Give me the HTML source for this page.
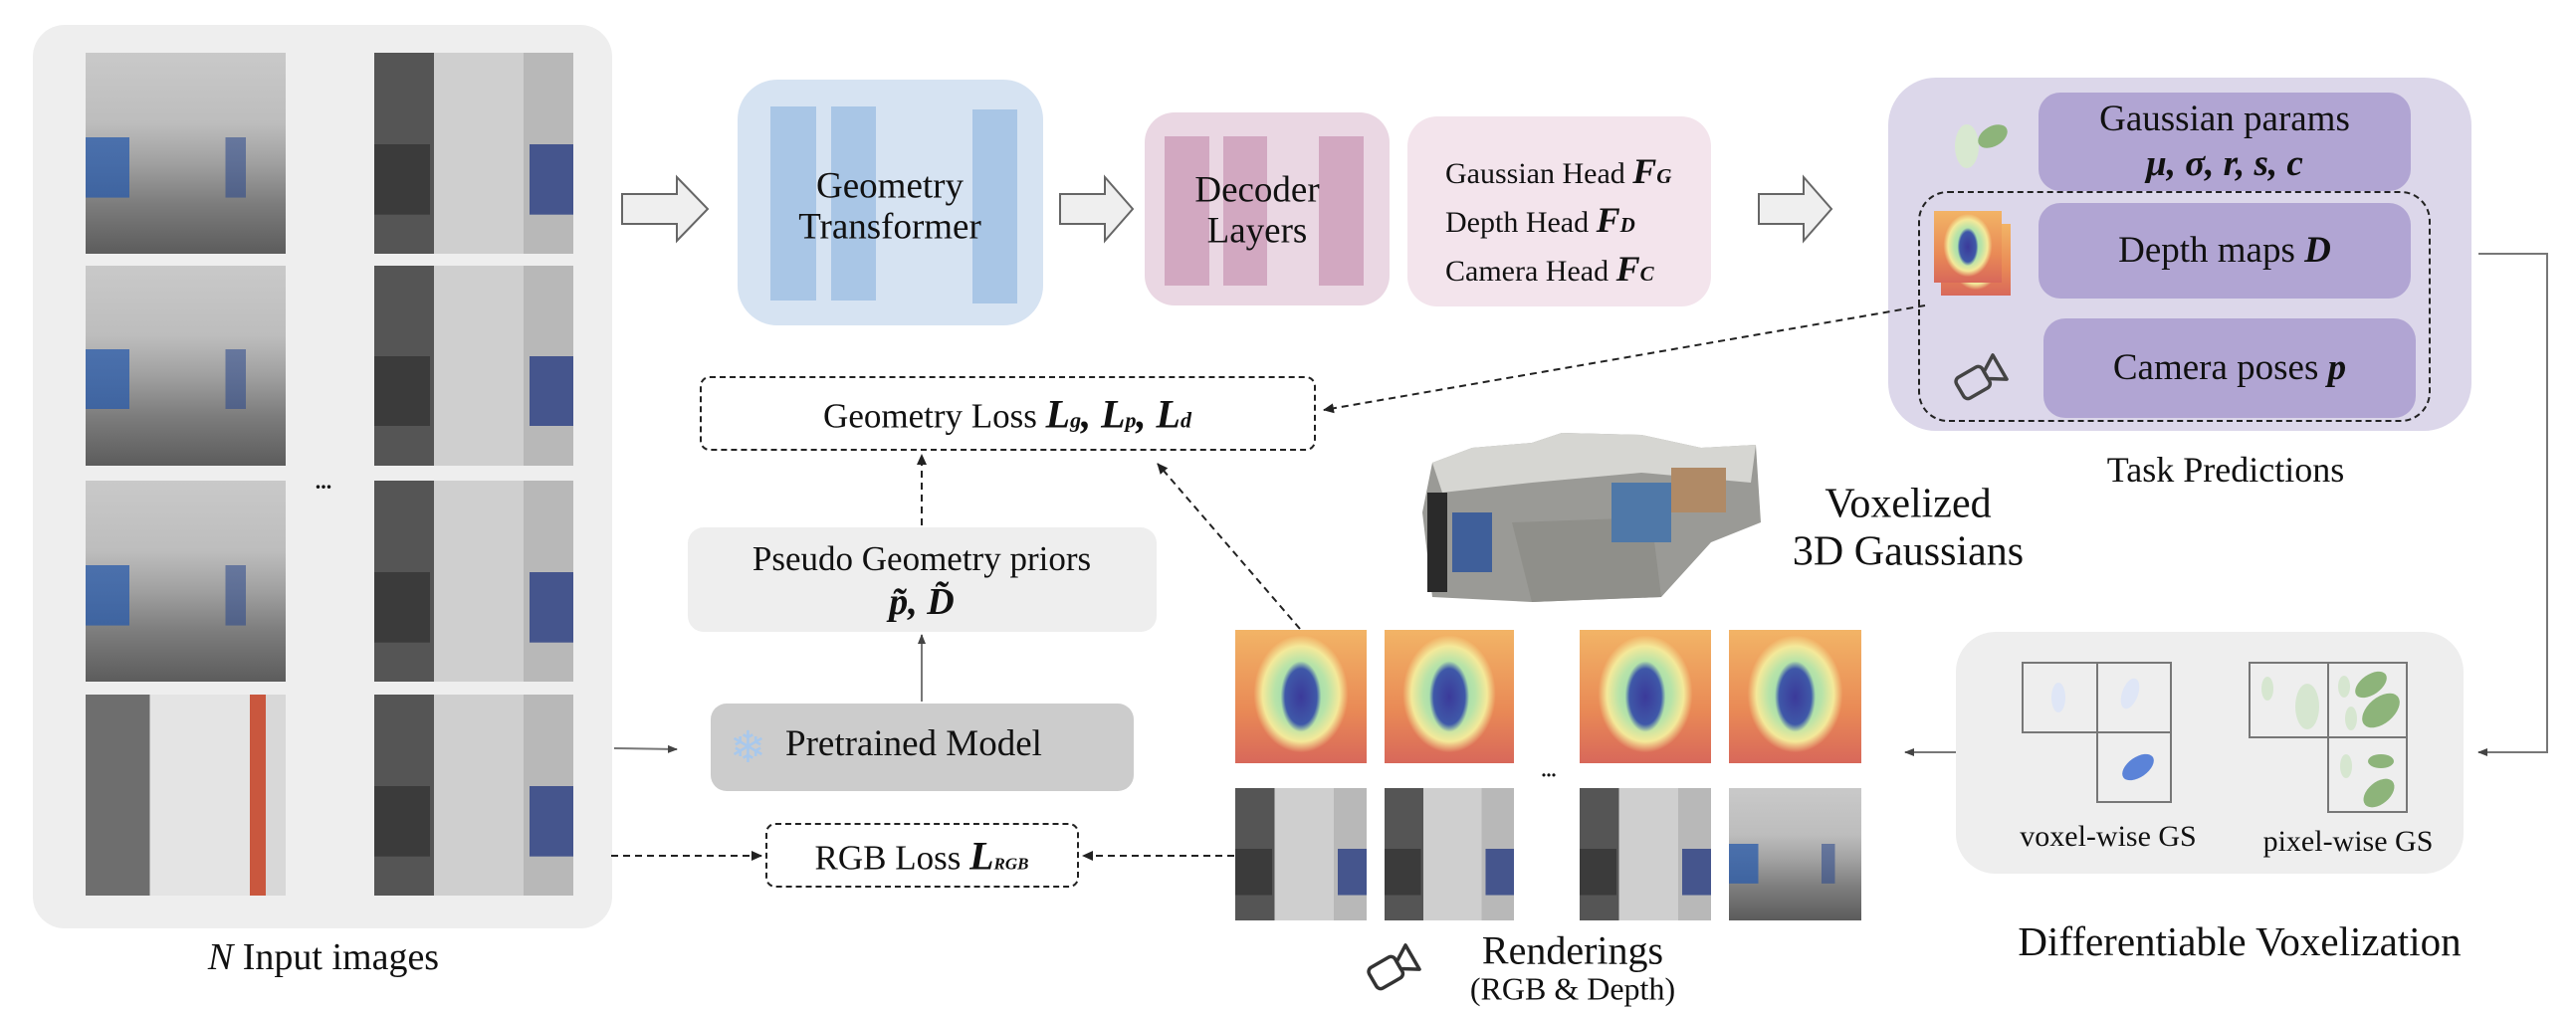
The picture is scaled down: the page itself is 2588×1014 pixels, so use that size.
<!DOCTYPE html>
<html><head><meta charset="utf-8">
<style>
*{margin:0;padding:0;box-sizing:border-box}
body{width:2588px;height:1014px;background:#fff;position:relative;overflow:hidden;font-family:"Liberation Serif",serif;color:#111}
.a{position:absolute}
.box{position:absolute;border-radius:38px}
.bar{position:absolute}
.photo{position:absolute;background:
 linear-gradient(90deg,rgba(40,90,170,.75) 0 22%,transparent 22% 70%,rgba(40,70,140,.55) 70% 80%,transparent 80%) 0 60%/100% 30% no-repeat,
 linear-gradient(180deg,#c9c9c9 0%,#bdbdbd 35%,#a0a0a0 55%,#7d7d7d 75%,#5c5c5c 100%);}
.photo2{position:absolute;background:
 linear-gradient(90deg,#3b3b3b 0 28%,transparent 28% 78%,rgba(40,60,130,.8) 78%) 0 70%/100% 35% no-repeat,
 linear-gradient(90deg,#555 0 30%,#cfcfcf 30% 75%,#b8b8b8 75%) ,#aaa;}
.depth{position:absolute;background:
 radial-gradient(ellipse 22% 38% at 50% 50%,#3b3a9a 0%,#3f58a8 55%,transparent 70%),
 radial-gradient(ellipse 45% 55% at 50% 48%,#7fd3b8 0%,#b8e3a8 45%,#f4e99a 65%,transparent 80%),
 linear-gradient(180deg,#f2b466,#e98a56 60%,#d8685a);}
.t{position:absolute;white-space:nowrap;text-align:center;transform:translate(-50%,-50%)}
.mbox{position:absolute;background:#b1a5d3;border-radius:22px;font-size:37px;display:flex;flex-direction:column;align-items:center;justify-content:center;text-align:center;line-height:1.2;white-space:nowrap}
b i, i b{font-weight:bold;font-style:italic}
</style></head><body>

<div class="box" style="left:33px;top:25px;width:582px;height:908px;background:#eeeeee;border-radius:32px"></div>
<div class="photo" style="left:86px;top:53px;width:201px;height:202px"></div>
<div class="photo2" style="left:376px;top:53px;width:200px;height:202px"></div>
<div class="photo" style="left:86px;top:267px;width:201px;height:201px"></div>
<div class="photo2" style="left:376px;top:267px;width:200px;height:201px"></div>
<div class="photo" style="left:86px;top:483px;width:201px;height:202px"></div>
<div class="photo2" style="left:376px;top:483px;width:200px;height:202px"></div>
<div class="a" style="left:86px;top:698px;width:201px;height:202px;background:linear-gradient(90deg,#6e6e6e 0 32%,#e4e4e4 32% 82%,#c9573e 82% 90%,#d8d8d8 90%)"></div>
<div class="photo2" style="left:376px;top:698px;width:200px;height:202px"></div>
<div class="t" style="left:325px;top:484px;font-size:22px;font-weight:bold">...</div>
<div class="t" style="left:325px;top:962px;font-size:38px"><i>N</i> Input images</div>

<div class="box" style="left:741px;top:80px;width:307px;height:247px;background:#d6e3f2;border-radius:40px"></div>
<div class="bar" style="left:774px;top:107px;width:46px;height:195px;background:#a9c6e6"></div>
<div class="bar" style="left:835px;top:107px;width:45px;height:195px;background:#a9c6e6"></div>
<div class="bar" style="left:977px;top:110px;width:45px;height:195px;background:#a9c6e6"></div>
<div class="t" style="left:894px;top:208px;font-size:37px;line-height:1.1">Geometry<br>Transformer</div>

<div class="box" style="left:1150px;top:113px;width:246px;height:194px;background:#ead7e3;border-radius:30px"></div>
<div class="bar" style="left:1170px;top:137px;width:45px;height:150px;background:#d2a8c1"></div>
<div class="bar" style="left:1229px;top:137px;width:44px;height:150px;background:#d2a8c1"></div>
<div class="bar" style="left:1325px;top:137px;width:45px;height:150px;background:#d2a8c1"></div>
<div class="t" style="left:1263px;top:212px;font-size:37px;line-height:1.1">Decoder<br>Layers</div>

<div class="box" style="left:1414px;top:117px;width:305px;height:191px;background:#f3e4ec;border-radius:30px"></div>
<div class="a" style="left:1452px;top:150px;font-size:30px;line-height:44px;white-space:nowrap">Gaussian Head <b><i style="font-size:36px">F<span style="font-size:21px">G</span></i></b><br>Depth Head <b><i style="font-size:36px">F<span style="font-size:21px">D</span></i></b><br>Camera Head <b><i style="font-size:36px">F<span style="font-size:21px">C</span></i></b></div>

<div class="box" style="left:1897px;top:78px;width:586px;height:355px;background:#dcd7ea;border-radius:48px"></div>
<div class="mbox" style="left:2048px;top:93px;width:374px;height:99px"><div>Gaussian params</div><div><b><i>μ, σ, r, s, c</i></b></div></div>
<div class="a" style="left:1927px;top:192px;width:515px;height:232px;border:2px dashed #222;border-radius:30px"></div>
<div class="mbox" style="left:2048px;top:204px;width:374px;height:96px"><div>Depth maps <b><i>D</i></b></div></div>
<div class="mbox" style="left:2053px;top:320px;width:374px;height:100px"><div>Camera poses <b><i>p</i></b></div></div>
<svg class="a" style="left:1960px;top:115px" width="70" height="60"><ellipse cx="16" cy="32" rx="12" ry="22" fill="#d8e8d0"/><ellipse cx="42" cy="22" rx="16" ry="10" transform="rotate(-30 42 22)" fill="#8db47a"/></svg>
<div class="depth" style="left:1950px;top:225px;width:70px;height:72px"></div>
<div class="depth" style="left:1943px;top:212px;width:68px;height:72px"></div>
<svg class="a" style="left:1960px;top:352px" width="60" height="55"><g transform="rotate(-30 30 28)" fill="none" stroke="#444" stroke-width="3.5" stroke-linejoin="round"><rect x="6" y="16" width="30" height="24" rx="5"/><path d="M36 24 L52 14 L52 42 L36 32 Z"/></g></svg>
<div class="t" style="left:2236px;top:472px;font-size:36px">Task Predictions</div>

<svg class="a" style="left:1419px;top:425px" width="360" height="185">
<path d="M20 40 L60 25 L120 20 L150 10 L230 12 L290 25 L345 22 L350 100 L300 120 L250 175 L120 180 L20 175 L10 90 Z" fill="#9a9a96"/>
<path d="M20 40 L60 25 L120 20 L150 10 L230 12 L290 25 L345 22 L340 60 L230 50 L120 60 L30 70 Z" fill="#d6d6d2"/>
<path d="M100 100 L240 95 L250 175 L120 180 Z" fill="#8f8f8a"/>
<rect x="200" y="60" width="60" height="60" fill="#4f78a8"/>
<rect x="260" y="45" width="55" height="45" fill="#b08a66"/>
<rect x="40" y="90" width="40" height="60" fill="#3f5f9a"/>
<rect x="15" y="70" width="20" height="100" fill="#2a2a2a"/>
</svg>
<div class="t" style="left:1917px;top:531px;font-size:42px;line-height:1.15">Voxelized<br>3D Gaussians</div>

<div class="a" style="left:703px;top:378px;width:619px;height:75px;border:2px dashed #222;border-radius:10px"></div>
<div class="t" style="left:1012px;top:416px;font-size:35px">Geometry Loss <b><i style="font-size:40px">L<span style="font-size:22px">g</span>, L<span style="font-size:22px">p</span>, L<span style="font-size:22px">d</span></i></b></div>

<div class="a" style="left:691px;top:530px;width:471px;height:105px;background:#eeeeee;border-radius:16px"></div>
<div class="t" style="left:926px;top:585px;font-size:35px;line-height:1.2">Pseudo Geometry priors<br><b><i style="font-size:38px">p̃, D̃</i></b></div>

<div class="a" style="left:714px;top:707px;width:425px;height:88px;background:#cccccc;border-radius:16px"></div>
<div class="a" style="left:733px;top:725px;font-size:44px;color:#a8c8ec;line-height:54px">❄</div>
<div class="a" style="left:789px;top:726px;font-size:37px;white-space:nowrap">Pretrained Model</div>

<div class="a" style="left:769px;top:827px;width:315px;height:65px;border:2px dashed #222;border-radius:10px"></div>
<div class="t" style="left:926px;top:860px;font-size:35px">RGB Loss <b><i style="font-size:40px">L<span style="font-size:17px">RGB</span></i></b></div>

<div class="depth" style="left:1241px;top:633px;width:132px;height:134px"></div>
<div class="depth" style="left:1391px;top:633px;width:130px;height:134px"></div>
<div class="depth" style="left:1587px;top:633px;width:132px;height:134px"></div>
<div class="depth" style="left:1737px;top:633px;width:133px;height:134px"></div>
<div class="photo2" style="left:1241px;top:792px;width:132px;height:133px"></div>
<div class="photo2" style="left:1391px;top:792px;width:130px;height:133px"></div>
<div class="photo2" style="left:1587px;top:792px;width:132px;height:133px"></div>
<div class="photo" style="left:1737px;top:792px;width:133px;height:133px"></div>
<div class="t" style="left:1556px;top:775px;font-size:20px;font-weight:bold">...</div>
<svg class="a" style="left:1370px;top:945px" width="60" height="55"><g transform="rotate(-30 30 28)" fill="none" stroke="#333" stroke-width="3.5" stroke-linejoin="round"><rect x="6" y="16" width="30" height="24" rx="5"/><path d="M36 24 L52 14 L52 42 L36 32 Z"/></g></svg>
<div class="t" style="left:1580px;top:955px;font-size:40px">Renderings</div>
<div class="t" style="left:1580px;top:994px;font-size:32px">(RGB &amp; Depth)</div>

<div class="a" style="left:1965px;top:635px;width:510px;height:243px;background:#eeeeee;border-radius:40px"></div>
<svg class="a" style="left:0;top:0" width="2588" height="1014">
<defs>
<marker id="ah" markerWidth="10" markerHeight="10" refX="9" refY="5" orient="auto" markerUnits="userSpaceOnUse"><path d="M0 1 L10 5 L0 9 Z" fill="#444"/></marker>
<marker id="ah2" markerWidth="12" markerHeight="12" refX="10" refY="6" orient="auto" markerUnits="userSpaceOnUse"><path d="M0 1 L11 6 L0 11 Z" fill="#222"/></marker>
</defs>
<g fill="#efefef" stroke="#666" stroke-width="2">
<path d="M625 195 L680 195 L680 178 L711 210 L680 242 L680 225 L625 225 Z"/>
<path d="M1065 195 L1110 195 L1110 178 L1138 210 L1110 242 L1110 225 L1065 225 Z"/>
<path d="M1767 195 L1812 195 L1812 178 L1840 210 L1812 242 L1812 225 L1767 225 Z"/>
</g>
<g fill="none" stroke="#777" stroke-width="2">
<rect x="2032" y="666" width="75" height="70"/><rect x="2107" y="666" width="74" height="70"/><rect x="2107" y="736" width="74" height="70"/>
<rect x="2260" y="666" width="79" height="75"/><rect x="2339" y="666" width="79" height="75"/><rect x="2339" y="741" width="79" height="75"/>
</g>
<ellipse cx="2068" cy="701" rx="7" ry="15" fill="#dfe6f6"/>
<ellipse cx="2140" cy="697" rx="8" ry="16" transform="rotate(20 2140 697)" fill="#dfe6f6"/>
<ellipse cx="2148" cy="771" rx="18" ry="10" transform="rotate(-35 2148 771)" fill="#5b83d8"/>
<ellipse cx="2278" cy="692" rx="6" ry="12" fill="#d6e6d0"/>
<ellipse cx="2318" cy="710" rx="12" ry="23" fill="#d6e6d0"/>
<ellipse cx="2355" cy="690" rx="6" ry="11" fill="#d6e6d0"/>
<ellipse cx="2382" cy="688" rx="18" ry="10" transform="rotate(-35 2382 688)" fill="#8db47a"/>
<ellipse cx="2362" cy="722" rx="6" ry="12" fill="#d6e6d0"/>
<ellipse cx="2392" cy="714" rx="22" ry="13" transform="rotate(-40 2392 714)" fill="#8db47a"/>
<ellipse cx="2357" cy="770" rx="6" ry="12" fill="#d6e6d0"/>
<ellipse cx="2392" cy="765" rx="13" ry="7" fill="#8db47a"/>
<ellipse cx="2390" cy="797" rx="18" ry="11" transform="rotate(-40 2390 797)" fill="#8db47a"/>
<g stroke="#777" stroke-width="2" fill="none">
<polyline points="2490,255 2559,255 2559,756 2490,756" marker-end="url(#ah)"/>
<line x1="1965" y1="756" x2="1914" y2="756" marker-end="url(#ah)"/>
<line x1="617" y1="752" x2="680" y2="753" marker-end="url(#ah)"/>
<line x1="926" y1="705" x2="926" y2="638" marker-end="url(#ah)"/>
</g>
<g stroke="#222" stroke-width="2" fill="none" stroke-dasharray="7 5">
<line x1="1934" y1="307" x2="1330" y2="412" marker-end="url(#ah2)"/>
<line x1="926" y1="528" x2="926" y2="457" marker-end="url(#ah2)"/>
<line x1="1306" y1="632" x2="1163" y2="466" marker-end="url(#ah2)"/>
<line x1="614" y1="860" x2="765" y2="860" marker-end="url(#ah2)"/>
<line x1="1240" y1="860" x2="1088" y2="860" marker-end="url(#ah2)"/>
</g>
</svg>
<div class="t" style="left:2118px;top:841px;font-size:30px">voxel-wise GS</div>
<div class="t" style="left:2359px;top:846px;font-size:30px">pixel-wise GS</div>
<div class="t" style="left:2250px;top:946px;font-size:41px">Differentiable Voxelization</div>
</body></html>
